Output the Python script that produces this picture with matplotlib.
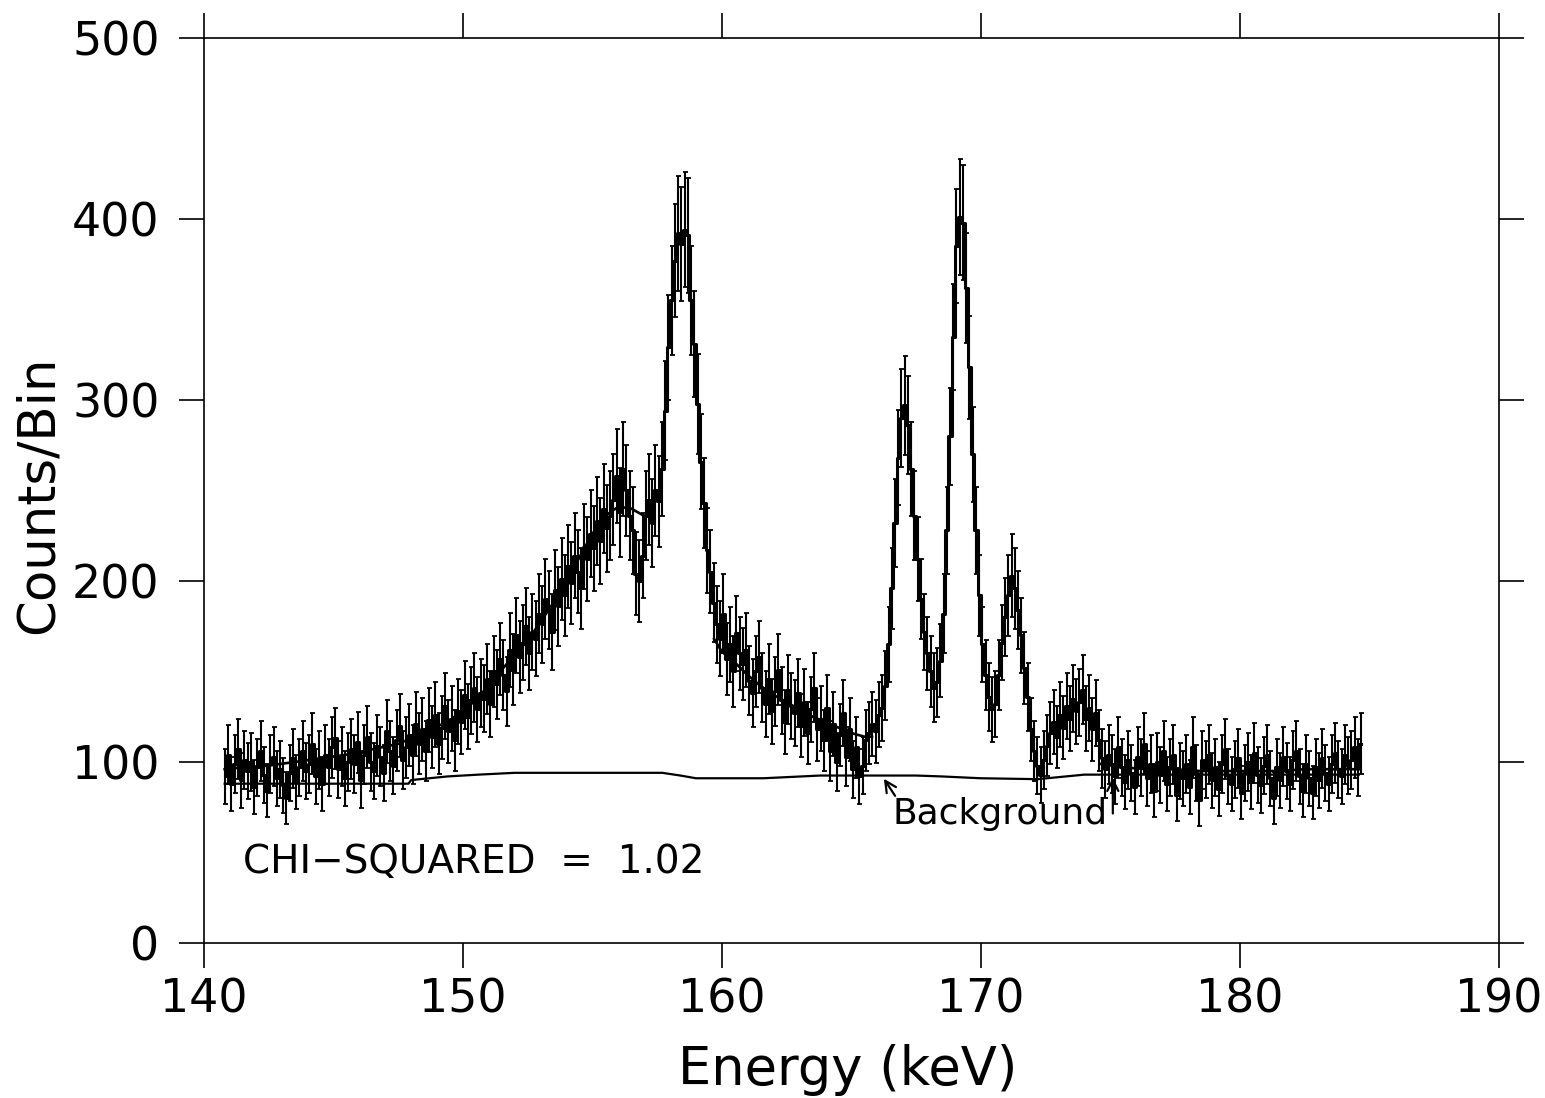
import matplotlib
matplotlib.use("Agg")
import matplotlib.pyplot as plt
import numpy as np

# measured spectrum, 0.125 keV bins starting at 140.75 keV (one row = 1 keV)
counts = [
    92, 104, 88, 99, 107, 90, 101, 95,      # 140.75
    100, 86, 97, 106, 93, 84, 99, 103,      # 141.75
    91, 96, 87, 80, 94, 102, 89, 97,        # 142.75
    106, 95, 99, 110, 92, 101, 88, 104,     # 143.75
    97, 108, 113, 96, 103, 91, 100, 107,    # 144.75
    99, 111, 90, 104, 114, 100, 95, 109,    # 145.75
    103, 94, 117, 106, 98, 112, 120, 101,   # 146.75
    108, 115, 104, 121, 110, 118, 106, 123, # 147.75
    114, 126, 110, 119, 131, 117, 124, 112, # 148.75
    128, 122, 137, 125, 134, 141, 129, 138, # 149.75
    135, 146, 132, 150, 143, 157, 148, 139, # 150.75
    162, 151, 170, 158, 166, 175, 160, 172, # 151.75
    168, 182, 176, 190, 184, 172, 195, 186, # 152.75
    201, 192, 208, 199, 214, 205, 196, 219, # 153.75
    212, 226, 218, 233, 222, 240, 229, 236, # 154.75
    245, 258, 238, 262, 250, 236, 228, 204, # 155.75
    200, 214, 236, 245, 232, 250, 244, 262, # 156.75
    294, 329, 355, 377, 392, 386, 394, 391, # 157.75
    355, 331, 298, 266, 243, 217, 205, 188, # 158.75
    176, 168, 182, 157, 165, 150, 171, 160, # 159.75
    154, 162, 145, 138, 150, 158, 141, 132, # 160.75
    146, 128, 139, 151, 134, 122, 140, 131, # 161.75
    127, 138, 120, 133, 116, 129, 141, 118, # 162.75
    124, 112, 130, 106, 121, 100, 115, 127, # 163.75
    103, 118, 96, 108, 92, 98, 112, 116,    # 164.75
    121, 117, 126, 130, 142, 165, 196, 232, # 165.75
    268, 290, 297, 286, 262, 236, 212, 190, # 166.75
    172, 160, 150, 141, 144, 156, 182, 228, # 167.75
    280, 335, 385, 401, 398, 362, 318, 270, # 168.75
    228, 192, 165, 148, 136, 129, 132, 148, # 169.75
    166, 180, 192, 203, 196, 184, 170, 152, # 170.75
    136, 118, 106, 98, 93, 101, 109, 116,   # 171.75
    122, 114, 126, 119, 131, 124, 135, 128, # 172.75
    133, 140, 124, 130, 118, 127, 112, 102, # 173.75
    96, 104, 99, 92, 108, 97, 89, 101,      # 174.75
    94, 86, 103, 97, 110, 91, 99, 84,       # 175.75
    100, 93, 106, 88, 97, 104, 82, 95,      # 176.75
    91, 99, 86, 108, 94, 79, 101, 96,       # 177.75
    104, 90, 97, 85, 99, 107, 92, 88,       # 178.75
    96, 102, 83, 94, 100, 89, 105, 93,      # 179.75
    87, 98, 104, 91, 80, 97, 90, 103,       # 180.75
    95, 88, 101, 106, 92, 84, 99, 91,       # 181.75
    83, 97, 90, 102, 94, 88, 99, 105,       # 182.75
    96, 92, 104, 98, 101, 108, 97, 110,     # 183.75
]
bin_start = 140.75
bin_width = 0.125

# fitted curve (nan = not drawn, hidden under the peaks)
fit_energy = [140.8, 141.5, 142.5, 143.5, 144.5, 145.5, 146.5, 147.5, 148.5,
              149.5, 150.5, 151.5, 152.5, 153.5, 154.5, 155.0, 155.5, 156.0,
              156.5, 157.0, 157.3, np.nan,
              159.7, 160.0, 160.5, 161.0, 161.5, 162.0, 162.5, 163.0, 163.5,
              164.0, 164.5, 165.0, 165.5, 165.8, np.nan,
              174.6, 175.5, 176.5, 177.5, 178.5, 179.5, 180.5, 181.5, 182.5,
              183.5, 184.6]
fit_counts = [96, 97, 98, 100, 102, 104, 107, 110, 116,
              123, 134, 151, 167, 188, 213, 226, 236, 241,
              240, 236, 238, np.nan,
              168, 161, 155, 148, 142, 137, 133, 129, 125,
              122, 119, 116, 114, 114, np.nan,
              99, 97, 96, 96, 95, 95, 95, 95, 96,
              96, 96]

# background component
bg_energy = [140.8, 147.9, 148.0, 149.4, 150.6, 152.0, 157.7, 158.4, 159.0,
             161.6, 163.8, 167.5, 168.5, 170.0, 172.2, 174.0, 184.6]
bg_counts = [88, 88, 90, 92, 93, 94, 94, 92.5, 91,
             91, 92.5, 92.5, 92, 91, 90.5, 93, 93]

counts = np.array(counts, dtype=float)
energy = bin_start + bin_width * (np.arange(len(counts)) + 0.5)
err = 1.6 * np.sqrt(counts)

fig = plt.figure(figsize=(15.45, 10.98), dpi=100)
ax = fig.add_axes([0.132, 0.1412, 0.838, 0.8242])

ax.step(energy, counts, where='mid', color='k', lw=2.2)
ax.errorbar(energy, counts, yerr=err, fmt='none', ecolor='k',
            elinewidth=1.5, capsize=1.8, capthick=1.3)
ax.plot(fit_energy, fit_counts, color='k', lw=1.9)
ax.plot(bg_energy, bg_counts, color='k', lw=1.6)

ax.set_xlim(140, 190)
ax.set_ylim(0, 500)
ax.set_xticks(np.arange(140, 191, 10))
ax.set_yticks(np.arange(0, 501, 100))
ax.tick_params(direction='out', length=18, width=1.2, top=True, right=True,
               labelsize=33)
ax.tick_params(axis='x', pad=7)
ax.tick_params(axis='y', pad=14)
for s in ax.spines.values():
    s.set_linewidth(1.2)

ax.set_xlabel('Energy (keV)', fontsize=38)
ax.xaxis.set_label_coords(0.497, -0.112)
ax.set_ylabel('Counts/Bin', fontsize=37)
ax.yaxis.set_label_coords(-0.108, 0.495)

ax.text(141.5, 45, 'CHI\u2212SQUARED  =  1.02', fontsize=28, va='center')
ax.text(166.6, 71, 'Background', fontsize=26, va='center')
ax.annotate('', xy=(166.2, 92), xytext=(166.75, 80), zorder=6,
            arrowprops=dict(arrowstyle='->', color='k', lw=1.6,
                            mutation_scale=20))
ax.annotate('', xy=(175.1, 93), xytext=(175.1, 70), zorder=6,
            arrowprops=dict(arrowstyle='->', color='k', lw=1.6,
                            mutation_scale=20))

fig.savefig('out.png', dpi=100)
